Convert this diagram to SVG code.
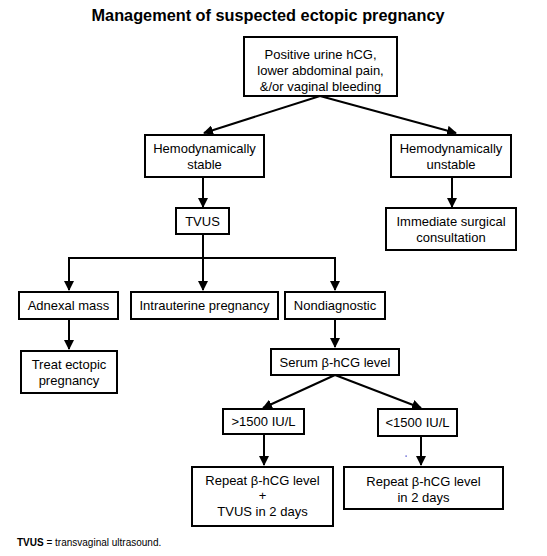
<svg xmlns="http://www.w3.org/2000/svg" width="547" height="556" viewBox="0 0 547 556">
<style>
rect.box{fill:#fff;stroke:#000;stroke-width:2}
text{font-family:"Liberation Sans",Arial,sans-serif;font-size:13px;fill:#000;text-anchor:middle}
.title{font-weight:bold;font-size:17px}
.foot{font-size:10px;text-anchor:start}
#connectors line,#connectors polyline{stroke:#000;stroke-width:2;fill:none}
</style>
<defs>
<marker id="ah" viewBox="0 0 10 10" refX="9" refY="5" markerWidth="5" markerHeight="5" orient="auto" markerUnits="strokeWidth">
<path d="M0,0 L10,5 L0,10 z" fill="#000"/>
</marker>
</defs>
<rect width="547" height="556" fill="#fff"/>
<text class="title" x="268" y="21" textLength="353" lengthAdjust="spacingAndGlyphs">Management of suspected ectopic pregnancy</text>

<g id="connectors">
<line x1="320" y1="96" x2="204" y2="133" marker-end="url(#ah)"/>
<line x1="320" y1="96" x2="456" y2="133" marker-end="url(#ah)"/>
<line x1="203" y1="177" x2="203" y2="207" marker-end="url(#ah)"/>
<line x1="452" y1="177" x2="452" y2="207" marker-end="url(#ah)"/>
<line x1="203" y1="234" x2="203" y2="258"/>
<line x1="69" y1="258" x2="335" y2="258"/>
<line x1="69" y1="257" x2="69" y2="290" marker-end="url(#ah)"/>
<line x1="203" y1="258" x2="203" y2="290" marker-end="url(#ah)"/>
<line x1="335" y1="257" x2="335" y2="290" marker-end="url(#ah)"/>
<line x1="69" y1="319" x2="69" y2="349" marker-end="url(#ah)"/>
<line x1="335" y1="319" x2="335" y2="347" marker-end="url(#ah)"/>
<line x1="335" y1="375" x2="263" y2="408" marker-end="url(#ah)"/>
<line x1="335" y1="375" x2="421" y2="408" marker-end="url(#ah)"/>
<line x1="264" y1="434" x2="264" y2="465" marker-end="url(#ah)"/>
<line x1="421" y1="436" x2="421" y2="465" marker-end="url(#ah)"/>
</g>

<g id="n-start">
<rect class="box" x="244" y="37" width="153" height="59"/>
<text x="320.5" y="59">Positive urine hCG,</text>
<text x="320.5" y="75">lower abdominal pain,</text>
<text x="320.5" y="91">&amp;/or vaginal bleeding</text>
</g>
<g id="n-stable">
<rect class="box" x="145" y="135" width="119" height="42"/>
<text x="204.5" y="153">Hemodynamically</text>
<text x="204.5" y="169">stable</text>
</g>
<g id="n-unstable">
<rect class="box" x="391" y="135" width="120" height="42"/>
<text x="451" y="153">Hemodynamically</text>
<text x="451" y="169">unstable</text>
</g>
<g id="n-tvus">
<rect class="box" x="176" y="208" width="53" height="26"/>
<text x="202.5" y="226">TVUS</text>
</g>
<g id="n-surgical">
<rect class="box" x="386" y="208" width="130" height="42"/>
<text x="451" y="226">Immediate surgical</text>
<text x="451" y="242">consultation</text>
</g>
<g id="n-adnexal">
<rect class="box" x="19" y="292" width="99" height="27"/>
<text x="68.5" y="310">Adnexal mass</text>
</g>
<g id="n-iup">
<rect class="box" x="131" y="292" width="147" height="27"/>
<text x="204.5" y="310">Intrauterine pregnancy</text>
</g>
<g id="n-nondiag">
<rect class="box" x="285" y="292" width="100" height="27"/>
<text x="335" y="310">Nondiagnostic</text>
</g>
<g id="n-treat">
<rect class="box" x="21" y="351" width="96" height="42"/>
<text x="69" y="369">Treat ectopic</text>
<text x="69" y="385">pregnancy</text>
</g>
<g id="n-serum">
<rect class="box" x="271" y="349" width="128" height="26"/>
<text x="335" y="367">Serum β-hCG level</text>
</g>
<g id="n-gt1500">
<rect class="box" x="223" y="409" width="81" height="25"/>
<text x="263.5" y="426">&gt;1500 IU/L</text>
</g>
<g id="n-lt1500">
<rect class="box" x="378" y="409" width="79" height="27"/>
<text x="417.5" y="427">&lt;1500 IU/L</text>
</g>
<g id="n-repeat-tvus">
<rect class="box" x="192" y="467" width="141" height="59"/>
<text x="262.5" y="485">Repeat β-hCG level</text>
<text x="262.5" y="500">+</text>
<text x="262.5" y="516">TVUS in 2 days</text>
</g>
<g id="n-repeat">
<rect class="box" x="344" y="467" width="159" height="42"/>
<text x="423.5" y="486">Repeat β-hCG level</text>
<text x="423.5" y="502">in 2 days</text>
</g>
<rect x="405.5" y="455.5" width="1.2" height="1.2" fill="#2020c0"/>
<text class="foot" x="17" y="546"><tspan font-weight="bold">TVUS</tspan> = transvaginal ultrasound.</text>
</svg>
